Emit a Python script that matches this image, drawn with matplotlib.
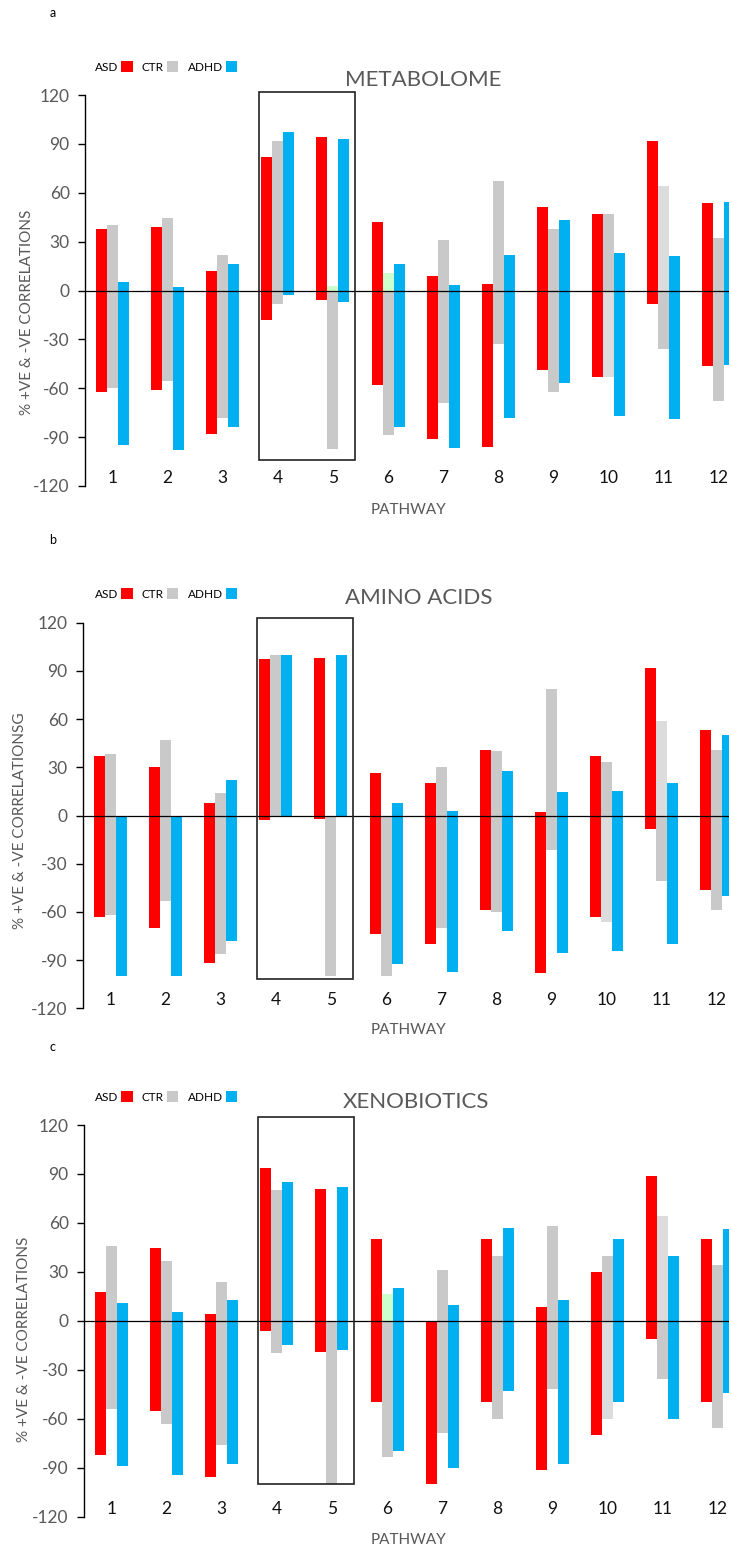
import matplotlib.pyplot as plt
from matplotlib.patches import Rectangle, Patch
import numpy as np

plt.rcParams['font.family'] = ['Lato', 'DejaVu Sans']
plt.rcParams['axes.unicode_minus'] = False

pathways = list(range(1, 13))
groups = ['ASD', 'CTR', 'ADHD']

# a - metabolome (% positive / % negative correlations)
met_asd_pos = [37.5, 39, 12, 82, 94, 42, 9, 4, 51, 47, 92, 53.5]
met_asd_neg = [-62.5, -61, -88, -18, -6, -58, -91, -96, -49, -53, -8, -46.5]
met_ctr_pos = [40, 44.5, 22, 92, 2.5, 11, 31, 67, 38, 47, 64, 32]
met_ctr_neg = [-60, -55.5, -78, -8, -97.5, -89, -69, -33, -62, -53, -36, -68]
met_adhd_pos = [5, 2, 16, 97, 93, 16, 3.5, 22, 43.5, 23, 21, 54.5]
met_adhd_neg = [-95, -98, -84, -3, -7, -84, -96.5, -78, -56.5, -77, -79, -45.5]

# b - amino acids
aa_asd_pos = [37, 30, 8, 97.5, 98, 26.5, 20, 41, 2, 37, 91.5, 53.5]
aa_asd_neg = [-63, -70, -92, -2.5, -2, -73.5, -80, -59, -98, -63, -8.5, -46.5]
aa_ctr_pos = [38, 47, 14, 100, 0, 0, 30, 40, 78.5, 33.5, 59, 41]
aa_ctr_neg = [-62, -53, -86, 0, -100, -100, -70, -60, -21.5, -66.5, -41, -59]
aa_adhd_pos = [0, 0, 22, 100, 100, 7.5, 2.5, 28, 14.5, 15.5, 20, 50]
aa_adhd_neg = [-100, -100, -78, 0, 0, -92.5, -97.5, -72, -85.5, -84.5, -80, -50]

# c - xenobiotics
xen_asd_pos = [17.5, 44.5, 4.5, 93.5, 81, 50, 0, 50, 8.5, 30, 89, 50]
xen_asd_neg = [-82.5, -55.5, -95.5, -6.5, -19, -50, -100, -50, -91.5, -70, -11, -50]
xen_ctr_pos = [46, 36.5, 24, 80, 0, 16.5, 31, 40, 58, 40, 64.5, 34.5]
xen_ctr_neg = [-54, -63.5, -76, -20, -100, -83.5, -69, -60, -42, -60, -35.5, -65.5]
xen_adhd_pos = [11, 5.5, 12.5, 85, 82, 20, 10, 57, 12.5, 50, 40, 56]
xen_adhd_neg = [-89, -94.5, -87.5, -15, -18, -80, -90, -43, -87.5, -50, -60, -44]

# styling
RED, GRAY, BLUE = '#ff0000', '#c9c9c9', '#00b0f0'
TXT = '#595959'
ctr_pos_shade = {5: '#ccffcc', 6: '#ccffcc', 11: '#dcdcdc'}
ctr_neg_shade = {10: '#dcdcdc'}

W, H = 729, 1548
fig = plt.figure(figsize=(W / 100, H / 100), dpi=100)

panels = [
    dict(letter='a', title='METABOLOME', ylabel='% +VE & -VE CORRELATIONS',
         data=[(met_asd_pos, met_asd_neg), (met_ctr_pos, met_ctr_neg), (met_adhd_pos, met_adhd_neg)],
         left=85, top=95, bottom=486, box=(-104, 122),
         title_xy=(423, 80), leg_y=67, xlab_y=510, letter_y=13, ylab_xy=(27, 312)),
    dict(letter='b', title='AMINO ACIDS', ylabel='% +VE & -VE CORRELATIONSG',
         data=[(aa_asd_pos, aa_asd_neg), (aa_ctr_pos, aa_ctr_neg), (aa_adhd_pos, aa_adhd_neg)],
         left=83, top=622.7, bottom=1008.3, box=(-102, 123),
         title_xy=(419, 598), leg_y=594, xlab_y=1030, letter_y=540, ylab_xy=(20, 821)),
    dict(letter='c', title='XENOBIOTICS', ylabel='% +VE & -VE CORRELATIONS',
         data=[(xen_asd_pos, xen_asd_neg), (xen_ctr_pos, xen_ctr_neg), (xen_adhd_pos, xen_adhd_neg)],
         left=84, top=1125, bottom=1516.7, box=(-100, 125),
         title_xy=(416, 1102), leg_y=1097, xlab_y=1540, letter_y=1047, ylab_xy=(24, 1339)),
]

step = 55.1  # px per category
bw = 0.2
x = np.array(pathways, dtype=float)

for p in panels:
    ax = fig.add_axes([p['left'] / W, 1 - p['bottom'] / H, 12 * step / W,
                       (p['bottom'] - p['top']) / H])
    ax.set_xlim(0.5, 12.5)
    ax.set_ylim(-120, 120)

    base_cols = [RED, GRAY, BLUE]
    for i, (pos, neg) in enumerate(p['data']):
        xs = x + (i - 1) * bw
        pc = [base_cols[i]] * 12
        nc = [base_cols[i]] * 12
        if i == 1:
            pc = [ctr_pos_shade.get(k, GRAY) for k in pathways]
            nc = [ctr_neg_shade.get(k, GRAY) for k in pathways]
        ax.bar(xs, pos, width=bw, color=pc, linewidth=0, zorder=2)
        ax.bar(xs, neg, width=bw, color=nc, linewidth=0, zorder=2)

    ax.axhline(0, color='black', lw=0.9, zorder=3)

    ax.add_patch(Rectangle((3.65, p['box'][0]), 1.75, p['box'][1] - p['box'][0],
                           fill=False, edgecolor='#222222', lw=1.2, clip_on=False, zorder=4))

    for s in ['top', 'right', 'bottom']:
        ax.spines[s].set_visible(False)
    ax.spines['left'].set_color('black')
    ax.spines['left'].set_linewidth(1.0)
    ax.set_yticks(np.arange(-120, 121, 30))
    ax.tick_params(axis='y', direction='out', length=5, width=1, colors='black',
                   labelcolor=TXT, labelsize=12.5, pad=6)
    ax.set_xticks([])

    for k in pathways:
        ax.text(k, -115, str(k), ha='center', va='center', fontsize=12.5, color='#111111')

    fig.text(p['title_xy'][0] / W, 1 - p['title_xy'][1] / H, p['title'],
             ha='center', va='center', fontsize=16, color=TXT)
    fig.text(408 / W, 1 - p['xlab_y'] / H, 'PATHWAY', ha='center', va='center',
             fontsize=11, color=TXT)
    fig.text(53 / W, 1 - p['letter_y'] / H, p['letter'], ha='center', va='center',
             fontsize=9, color='black')
    fig.text(p['ylab_xy'][0] / W, 1 - p['ylab_xy'][1] / H, p['ylabel'], rotation=90,
             ha='center', va='center', fontsize=11, color=TXT)

    handles = [Patch(facecolor=c, edgecolor='none') for c in base_cols]
    fig.legend(handles, groups, loc='center left',
               bbox_to_anchor=(95 / W, 1 - p['leg_y'] / H), ncol=3, frameon=False,
               markerfirst=False, fontsize=8.5, handlelength=0.95, handleheight=0.95,
               handletextpad=0.25, columnspacing=0.8, borderpad=0, borderaxespad=0)

fig.savefig('out.png', dpi=100)
